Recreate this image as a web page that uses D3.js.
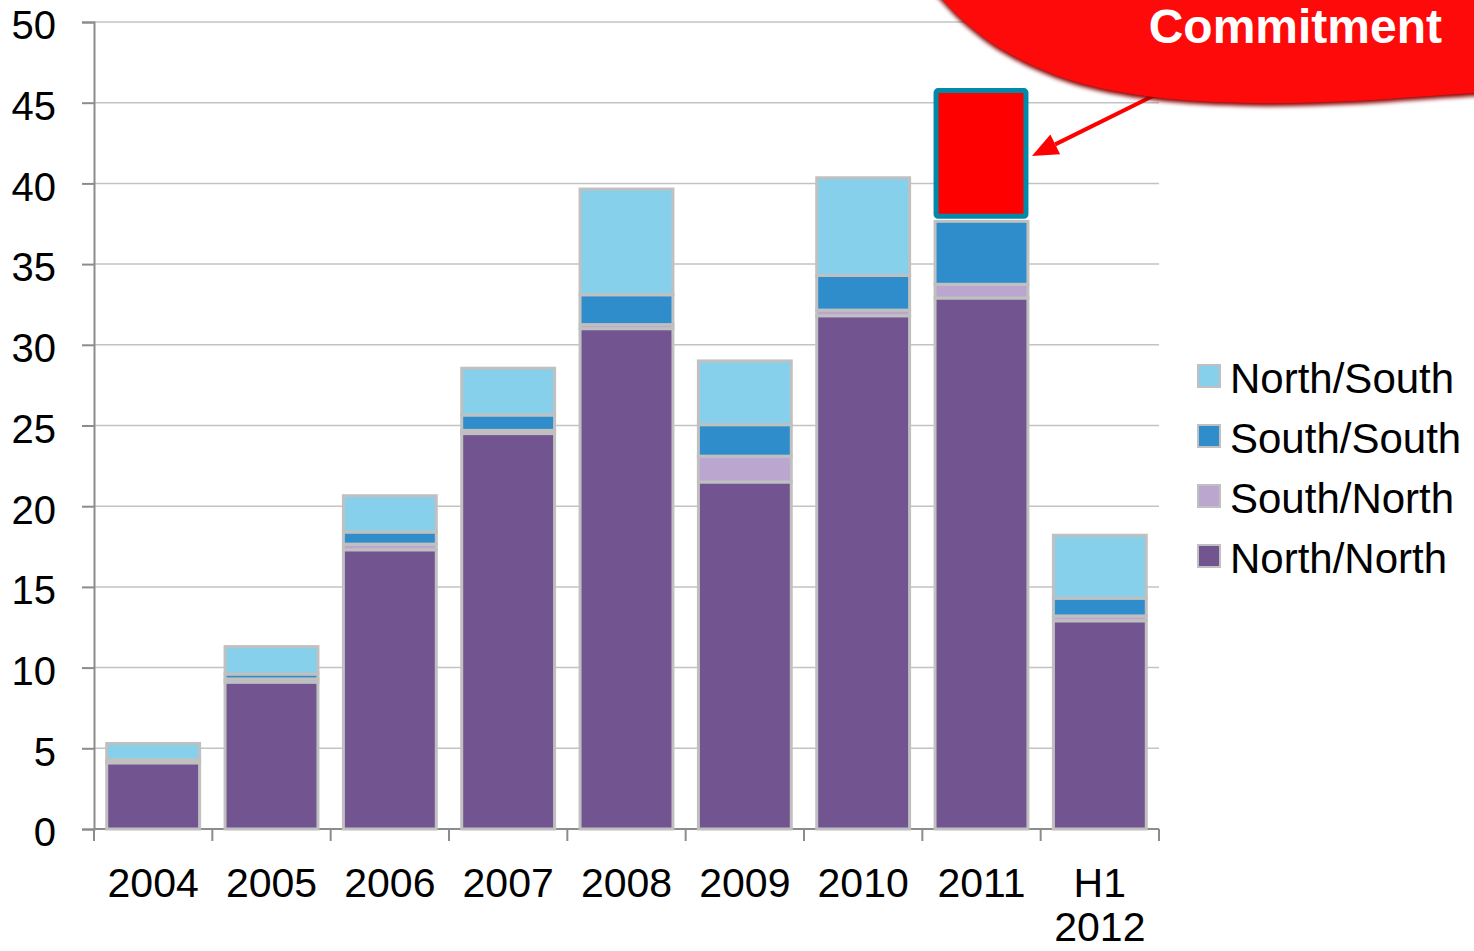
<!DOCTYPE html>
<html>
<head>
<meta charset="utf-8">
<script src="https://cdn.jsdelivr.net/npm/d3@7"></script>
<style>
  html, body { margin: 0; padding: 0; background: #fff; }
  svg { display: block; font-family: "Liberation Sans", Arial, sans-serif; }
</style>
</head>
<body>
<svg id="chart" width="1474" height="951"></svg>
<script>
// Categories and stacked series (bottom to top)
const categories = ["2004", "2005", "2006", "2007", "2008", "2009", "2010", "2011", "H1 2012"];
const northNorth = [4.1, 9.1, 17.3, 24.5, 31.0, 21.5, 31.8, 32.9, 12.9];
const southNorth = [0.1, 0.2, 0.35, 0.2, 0.25, 1.6, 0.35, 0.85, 0.3];
const southSouth = [0.1, 0.3, 0.75, 0.95, 1.85, 1.95, 2.15, 3.9, 1.1];
const northSouth = [1.0, 1.7, 2.25, 2.9, 6.55, 3.95, 6.05, 0, 3.9];
const commitment = [0, 0, 0, 0, 0, 0, 0, 8.1, 0];
const yTicks = [0, 5, 10, 15, 20, 25, 30, 35, 40, 45, 50];

const seriesKeys = ["North/North", "South/North", "South/South", "North/South", "Commitment"];
const seriesColors = {
  "North/North": "#725491",
  "South/North": "#baa6ce",
  "South/South": "#2e8dca",
  "North/South": "#86d0eb",
  "Commitment": "#ff0000"
};
const legendKeys = ["North/South", "South/South", "South/North", "North/North"];

const rows = categories.map((c, i) => ({
  category: c,
  "North/North": northNorth[i],
  "South/North": southNorth[i],
  "South/South": southSouth[i],
  "North/South": northSouth[i],
  "Commitment": commitment[i]
}));

const svg = d3.select("#chart");
const plot = { left: 94, right: 1159, top: 22, bottom: 829 };

const x = d3.scaleBand()
  .domain(categories)
  .range([plot.left, plot.right])
  .paddingInner(0.215)
  .paddingOuter(0.1075);

const y = d3.scaleLinear().domain([0, 50]).range([plot.bottom, plot.top]);

// Horizontal gridlines
svg.append("g")
  .selectAll("line")
  .data(yTicks.filter(t => t > 0))
  .join("line")
  .attr("x1", plot.left).attr("x2", plot.right)
  .attr("y1", d => y(d)).attr("y2", d => y(d))
  .attr("stroke", "#c3c3c3").attr("stroke-width", 1.5);

// Y axis
const yAxis = svg.append("g")
  .attr("transform", `translate(${plot.left},0)`)
  .call(d3.axisLeft(y).tickValues(yTicks).tickSize(12).tickPadding(26));
yAxis.select(".domain").attr("stroke", "#8c8c8c").attr("stroke-width", 2);
yAxis.selectAll(".tick line").attr("stroke", "#8c8c8c").attr("stroke-width", 2);
yAxis.selectAll(".tick text")
  .attr("font-size", 40).attr("fill", "#000")
  .attr("font-family", "'Liberation Sans', Arial, sans-serif")
  .attr("dy", "0.42em");

// X axis: boundary ticks between categories
const boundaries = d3.range(categories.length + 1).map(i => plot.left + i * x.step());
svg.append("line")
  .attr("x1", plot.left).attr("x2", plot.right)
  .attr("y1", plot.bottom).attr("y2", plot.bottom)
  .attr("stroke", "#8c8c8c").attr("stroke-width", 2);
svg.append("g")
  .selectAll("line")
  .data(boundaries)
  .join("line")
  .attr("x1", d => d).attr("x2", d => d)
  .attr("y1", plot.bottom).attr("y2", plot.bottom + 12)
  .attr("stroke", "#8c8c8c").attr("stroke-width", 2);

// Category labels (wrap on spaces)
const xLabels = svg.append("g")
  .selectAll("text")
  .data(categories)
  .join("text")
  .attr("x", d => x(d) + x.bandwidth() / 2)
  .attr("y", 897)
  .attr("text-anchor", "middle")
  .attr("font-size", 41)
  .attr("fill", "#000");
xLabels.each(function (d) {
  const parts = d.split(" ");
  const t = d3.select(this);
  parts.forEach((p, i) => {
    t.append("tspan")
      .attr("x", x(d) + x.bandwidth() / 2)
      .attr("dy", i === 0 ? 0 : 44)
      .text(p);
  });
});

// Stacked bars
const stacked = d3.stack().keys(seriesKeys)(rows);
const barGroups = svg.append("g")
  .selectAll("g")
  .data(stacked)
  .join("g")
  .attr("fill", s => seriesColors[s.key]);

barGroups.each(function (s) {
  const g = d3.select(this);
  const isCommit = s.key === "Commitment";
  g.selectAll("rect")
    .data(s.filter(d => d[1] - d[0] > 0).map(d => ({ d, key: s.key })))
    .join("rect")
    .attr("x", o => x(o.d.data.category) + (isCommit ? 1 : 0))
    .attr("width", x.bandwidth() - (isCommit ? 3 : 0))
    .attr("y", o => y(o.d[1]))
    .attr("height", o => y(o.d[0]) - y(o.d[1]) - (isCommit ? 5 : 0))
    .attr("rx", isCommit ? 2 : 0)
    .attr("stroke", isCommit ? "#0089a8" : "#c0c0c0")
    .attr("stroke-width", isCommit ? 5 : 3);
});

// Legend
const legend = svg.append("g")
  .selectAll("g")
  .data(legendKeys)
  .join("g")
  .attr("transform", (d, i) => `translate(1198, ${365 + i * 60})`);
legend.append("rect")
  .attr("width", 22).attr("height", 22)
  .attr("fill", d => seriesColors[d])
  .attr("stroke", "#c0c0c0").attr("stroke-width", 2);
legend.append("text")
  .attr("x", 32).attr("y", 28)
  .attr("font-size", 42)
  .attr("fill", "#000")
  .text(d => d);

// Callout arrow pointing at the commitment segment
const commitRow = stacked.find(s => s.key === "Commitment")[7];
const tipX = x(categories[7]) + x.bandwidth() + 4;
const tipY = y((commitRow[0] + commitRow[1]) / 2);
const startX = 1165, startY = 90;
const ang = Math.atan2(tipY - startY, tipX - startX);
const headLen = 26, headHalf = 11;
const baseX = tipX - headLen * Math.cos(ang), baseY = tipY - headLen * Math.sin(ang);
svg.append("line")
  .attr("x1", startX).attr("y1", startY)
  .attr("x2", baseX).attr("y2", baseY)
  .attr("stroke", "#ff0000").attr("stroke-width", 4);
svg.append("polygon")
  .attr("points", [
    [tipX, tipY],
    [baseX + headHalf * Math.sin(ang), baseY - headHalf * Math.cos(ang)],
    [baseX - headHalf * Math.sin(ang), baseY + headHalf * Math.cos(ang)]
  ].map(p => p.join(",")).join(" "))
  .attr("fill", "#ff0000");

// Callout bubble
const defs = svg.append("defs");
const shadow = defs.append("filter").attr("id", "bubbleShadow")
  .attr("x", "-10%").attr("y", "-10%").attr("width", "120%").attr("height", "140%");
shadow.append("feGaussianBlur").attr("stdDeviation", 2);

const edge = [[925, -20], [943, 0], [965, 22], [1003, 50], [1070, 80], [1153, 97],
              [1253, 103], [1353, 101], [1443, 95], [1490, 92]];
const edgePath = d3.line().curve(d3.curveCatmullRom)(edge) + "L1490,-30L925,-30Z";

svg.append("path")
  .attr("d", edgePath)
  .attr("transform", "translate(0,3)")
  .attr("fill", "#8a0000")
  .attr("filter", "url(#bubbleShadow)");
svg.append("path")
  .attr("d", edgePath)
  .attr("fill", "#ff0a0a");

svg.append("text")
  .attr("x", 1442).attr("y", 43)
  .attr("text-anchor", "end")
  .attr("font-size", 48)
  .attr("font-weight", "bold")
  .attr("fill", "#fff")
  .text("Commitment");
</script>
</body>
</html>
